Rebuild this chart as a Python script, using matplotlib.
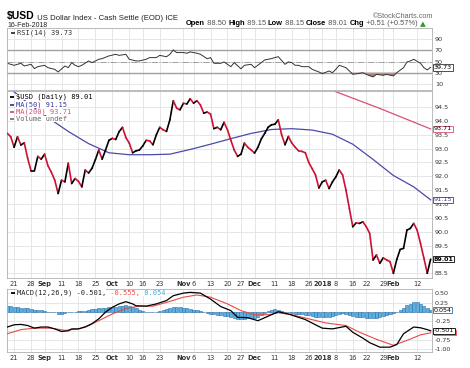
import numpy as np
import matplotlib
matplotlib.use('Agg')
import matplotlib.pyplot as plt
from matplotlib.collections import LineCollection
from matplotlib.patches import Rectangle

# x axis = trading day index, 0 = 17-Aug-2017 ... 125 = 16-Feb-2018
tick_days = [2, 7, 11, 16, 21, 26, 31, 36, 40, 45, 52, 55, 60, 65, 69, 73, 79, 84, 89, 93, 97, 102, 106, 111, 114, 121]
tick_labels = ['21', '28', 'Sep', '11', '18', '25', 'Oct', '10', '16', '23', 'Nov', '6', '13', '20', '27',
               'Dec', '11', '18', '26', '2018', '8', '16', '22', '29', 'Feb', '12']
month_labels = ['Sep', 'Oct', 'Nov', 'Dec', '2018', 'Feb']

close = [93.55, 93.43, 93.05, 93.43, 93.13, 93.21, 92.65, 92.20, 92.20, 92.72,
         92.62, 92.80, 92.38, 92.15, 91.86, 91.38, 91.86, 91.80, 92.47, 91.74,
         91.92, 91.82, 91.62, 92.23, 92.12, 92.29, 92.60, 92.95, 92.62, 92.95,
         93.30, 93.37, 93.33, 93.61, 93.77, 93.40, 93.20, 92.85, 92.92, 92.95,
         93.10, 93.30, 93.28, 93.14, 93.50, 93.77, 93.68, 93.62, 94.04, 94.73,
         94.46, 94.40, 94.64, 94.61, 94.80, 94.64, 94.73, 94.58, 94.28, 94.32,
         94.25, 93.72, 93.77, 93.68, 93.95, 93.68, 93.30, 92.95, 92.72, 92.80,
         93.20, 93.05, 92.95, 92.84, 93.05, 93.35, 93.55, 93.77, 93.86, 93.88,
         94.04, 93.50, 93.14, 93.44, 93.20, 93.05, 92.92, 92.90, 92.85, 92.50,
         92.28, 92.05, 91.58, 91.80, 91.86, 91.56, 91.80, 91.98, 92.23, 92.05,
         91.50, 90.84, 90.18, 90.32, 90.30, 90.36, 90.18, 89.94, 88.98, 89.16,
         88.86, 89.06, 88.98, 88.92, 88.50, 89.00, 89.36, 89.40, 90.06, 90.12,
         90.30, 90.06, 89.58, 89.05, 88.50, 89.01]

ma50_days = [0, 6, 12, 18, 24, 30, 36, 42, 48, 54, 60, 66, 72, 78, 84, 90, 96, 102, 108, 114, 120, 125]
ma50 = [95.25, 94.65, 94.12, 93.62, 93.18, 92.85, 92.78, 92.78, 92.80, 92.97, 93.16,
        93.36, 93.55, 93.69, 93.72, 93.67, 93.52, 93.16, 92.61, 92.03, 91.62, 91.15]

ma200_days = [93, 110, 125]
ma200 = [95.24, 94.45, 93.71]

rsi_days = [0, 2, 4, 5, 7, 8, 9, 11, 12, 14, 15, 17, 18, 19, 20, 21, 22, 24, 25, 27,
            28, 30, 32, 33, 35, 36, 38, 39, 41, 42, 44, 45, 47, 48, 49, 50, 52, 53, 54, 56,
            57, 59, 60, 61, 63, 64, 66, 67, 69, 70, 72, 73, 75, 76, 78, 79, 80, 82, 83, 84,
            85, 86, 87, 89, 90, 92, 93, 95, 96, 97, 98, 100, 101, 102, 104, 105, 106, 108, 109, 111,
            112, 114, 115, 117, 118, 119, 120, 122, 123, 124, 125]
rsi = [46.8, 43.2, 46.8, 42.0, 45.0, 37.3, 40.8, 43.2, 39.0, 36.0,
       31.3, 42.0, 39.0, 48.0, 43.2, 40.8, 43.2, 51.0, 48.0, 54.0,
       55.2, 60.0, 62.9, 61.0, 62.9, 54.0, 51.0, 51.0, 54.0, 57.0,
       57.0, 61.0, 58.6, 62.9, 70.6, 66.0, 66.0, 64.8, 67.2, 64.8,
       63.0, 55.0, 57.0, 46.8, 46.8, 49.2, 40.8, 48.0, 37.0, 43.2,
       45.0, 39.0, 48.0, 52.8, 55.2, 57.0, 58.7, 45.0, 49.2, 48.0,
       43.2, 43.2, 40.8, 40.8, 36.0, 31.3, 28.3, 33.0, 30.0, 36.0,
       43.2, 39.0, 33.0, 27.1, 28.9, 30.0, 27.0, 22.4, 27.0, 25.3,
       27.0, 24.2, 30.0, 39.0, 49.2, 51.0, 54.0, 46.8, 39.0, 34.9, 39.73]

macd_days = [0, 2, 4, 6, 8, 10, 12, 14, 16, 18, 19, 21, 23, 25, 27, 29, 31, 33, 35, 37,
             38, 41, 44, 47, 49, 52, 54, 57, 60, 63, 66, 68, 71, 74, 77, 80, 83, 85, 88, 91,
             93, 96, 100, 102, 105, 107, 110, 113, 115, 117, 120, 122, 124, 125]
macd = [-0.40, -0.34, -0.33, -0.36, -0.43, -0.40, -0.40, -0.45, -0.52, -0.50,
        -0.45, -0.45, -0.40, -0.31, -0.18, 0.00, 0.13, 0.22, 0.28, 0.22,
        0.17, 0.16, 0.22, 0.31, 0.44, 0.51, 0.53, 0.51, 0.35, 0.15,
        0.04, -0.14, -0.15, -0.23, -0.11, 0.01, -0.05, -0.11, -0.20, -0.34,
        -0.43, -0.45, -0.38, -0.54, -0.70, -0.82, -0.94, -0.94, -0.87, -0.58,
        -0.40, -0.42, -0.47, -0.501]

sig_days = [0, 4, 8, 13, 17, 21, 24, 27, 31, 35, 39, 43, 47, 52, 56, 60, 65, 69, 73, 77,
            80, 84, 89, 94, 100, 104, 109, 114, 118, 122, 125]
signal = [-0.58, -0.47, -0.43, -0.43, -0.49, -0.45, -0.36, -0.23, -0.05, 0.10,
          0.16, 0.16, 0.26, 0.40, 0.46, 0.40, 0.22, 0.04, -0.07, -0.07,
          -0.02, -0.07, -0.18, -0.29, -0.36, -0.54, -0.73, -0.89, -0.76, -0.61, -0.555]

hist = [0.17, 0.17, 0.15, 0.14, 0.12, 0.12, 0.12, 0.09, 0.06, 0.06,
        0.05, 0.03, 0.01, 0.01, 0.00, -0.04, -0.05, -0.03, 0.00, 0.00,
        0.01, 0.02, 0.03, 0.04, 0.06, 0.08, 0.09, 0.10, 0.12, 0.12,
        0.13, 0.14, 0.15, 0.16, 0.17, 0.18, 0.17, 0.14, 0.10, 0.06,
        0.03, 0.01, 0.00, 0.00, 0.01, 0.03, 0.05, 0.08, 0.12, 0.15,
        0.15, 0.14, 0.12, 0.10, 0.09, 0.07, 0.06, 0.04, 0.01, -0.02,
        -0.04, -0.06, -0.08, -0.09, -0.10, -0.10, -0.13, -0.17, -0.19, -0.19,
        -0.18, -0.17, -0.16, -0.15, -0.12, -0.07, -0.03, 0.02, 0.06, 0.08,
        0.07, 0.03, 0.00, -0.01, -0.03, -0.04, -0.05, -0.06, -0.07, -0.09,
        -0.11, -0.13, -0.14, -0.14, -0.14, -0.13, -0.11, -0.08, -0.05, -0.03,
        -0.04, -0.07, -0.10, -0.13, -0.14, -0.14, -0.15, -0.16, -0.16, -0.15,
        -0.13, -0.11, -0.08, -0.06, -0.03, 0.01, 0.06, 0.12, 0.18, 0.23,
        0.27, 0.27, 0.22, 0.16, 0.11, 0.054]

W_PX, H_PX = 470, 368
fig = plt.figure(figsize=(W_PX / 100, H_PX / 100), dpi=100)


def fx(x):
    return x / W_PX


def fy(y):
    return 1 - y / H_PX


L, W = fx(7), 425 / W_PX
ax_rsi = fig.add_axes([L, fy(90), W, 62 / H_PX])
ax = fig.add_axes([L, fy(278), W, 187 / H_PX])
ax_macd = fig.add_axes([L, fy(352), W, 63 / H_PX])

for a in (ax_rsi, ax, ax_macd):
    a.set_xlim(-0.1, 125.4)
    a.set_xticks(tick_days)
    a.grid(True, color='#e2e2e2', lw=0.6)
    a.set_axisbelow(True)
    a.yaxis.tick_right()
    a.tick_params(length=0, labelsize=4.6, labelcolor='#333333', pad=2)
    for s in a.spines.values():
        s.set_color('#b0b0b0')
        s.set_linewidth(0.6)

ax_rsi.tick_params(labelbottom=False)
for a in (ax, ax_macd):
    a.set_xticklabels(tick_labels, fontsize=4.8)
    for lbl in a.get_xticklabels():
        if lbl.get_text() in month_labels:
            lbl.set_fontweight('bold')


def tag(a, val, text, ec, tc='black', bold=False):
    a.text(1.004, val, text, transform=a.get_yaxis_transform(), ha='left', va='center',
           fontsize=4.6, color=tc, fontweight='bold' if bold else 'normal', zorder=10,
           bbox=dict(boxstyle='square,pad=0.12', fc='white', ec=ec, lw=0.6), clip_on=False)


def legend_item(a, px, py, top, height, text, color, tcolor):
    # px, py are figure pixels; convert to axes fraction of a
    xa = (px - 7) / 425
    ya = 1 - (py - top) / height
    a.plot([xa - 0.014, xa - 0.004], [ya, ya], color=color, lw=1.3, transform=a.transAxes,
           clip_on=False, zorder=11, solid_capstyle='butt')
    return a.text(xa, ya, text, transform=a.transAxes, fontsize=5, color=tcolor, va='center', ha='left',
                  family='DejaVu Sans Mono', zorder=11,
                  bbox=dict(boxstyle='square,pad=0', fc='white', ec='none'))


# ---- RSI panel ----
ax_rsi.set_ylim(-1, 110)
ax_rsi.set_yticks([10, 30, 50, 70, 90])
ax_rsi.axhline(70, color='#a0a0a0', lw=1.0)
ax_rsi.axhline(30, color='#a0a0a0', lw=1.0)
ax_rsi.axhline(50, color='#a0a0a0', lw=0.7, ls='-.')
r = np.array(rsi)
ax_rsi.fill_between(rsi_days, r, 30, where=r < 30, interpolate=True, color='#9a4a4a', alpha=0.75, lw=0)
ax_rsi.plot(rsi_days, rsi, color='#333333', lw=0.7)
legend_item(ax_rsi, 17, 33, 28, 62, 'RSI(14) 39.73', '#333333', '#333333')
tag(ax_rsi, 39.73, '39.73', '#333333')

# ---- price panel ----
price_ticks = np.arange(88.5, 94.51, 0.5)
ax.set_ylim(88.33, 95.08)
ax.set_yticks(price_ticks)
ax.set_yticklabels(['' if abs(v - 89.0) < 0.01 else '%.1f' % v for v in price_ticks])
ax.plot(ma50_days, ma50, color='#4a4aa8', lw=0.9, zorder=2)
ax.plot(ma200_days, ma200, color='#d9506e', lw=0.9, zorder=2)
days = np.arange(len(close))
pts = np.column_stack([days, close])
segs = np.stack([pts[:-1], pts[1:]], axis=1)
cols = ['#000000' if close[i + 1] >= close[i] else '#cc1133' for i in range(len(close) - 1)]
ax.add_collection(LineCollection(segs, colors=cols, linewidths=1.2, capstyle='round',
                                 joinstyle='round', zorder=3))

legend_item(ax, 16, 97, 91, 187, r'\$USD (Daily) 89.01', '#000000', '#000000')
legend_item(ax, 16, 104.5, 91, 187, 'MA(50) 91.15', '#3a3aa0', '#3a3aa0')
legend_item(ax, 16, 112, 91, 187, 'MA(200) 93.71', '#d9506e', '#d9506e')
legend_item(ax, 16, 119, 91, 187, 'Volume undef', '#777777', '#666666')

tag(ax, 93.71, '93.71', '#d9506e')
tag(ax, 91.15, '91.15', '#3a3aa0', tc='#3a3aa0')
tag(ax, 89.01, '89.01', '#000000', bold=True)

# ---- MACD panel ----
ax_macd.set_ylim(-1.07, 0.62)
ax_macd.set_yticks([-1.0, -0.75, -0.5, -0.25, 0.0, 0.25, 0.5])
ax_macd.set_yticklabels(['-1.00', '-0.75', '', '-0.25', '', '0.25', '0.50'])
ax_macd.bar(np.arange(len(hist)), hist, width=0.9, color='#5ab0e0', edgecolor='#2a70a8', lw=0.4, zorder=2)
ax_macd.plot(sig_days, signal, color='#e84a4a', lw=0.8, zorder=3)
ax_macd.plot(macd_days, macd, color='#000000', lw=0.9, zorder=4)
t = legend_item(ax_macd, 17, 292.7, 289, 63, 'MACD(12,26,9) -0.501,', '#000000', '#222222')
t2 = ax_macd.annotate(' -0.555,', xy=(1, 0.5), xycoords=t, va='center', fontsize=5,
                      color='#e84a4a', family='DejaVu Sans Mono', zorder=11,
                      bbox=dict(boxstyle='square,pad=0', fc='white', ec='none'))
ax_macd.annotate(' 0.054', xy=(1, 0.5), xycoords=t2, va='center', fontsize=5,
                 color='#4aa8d8', family='DejaVu Sans Mono', zorder=11,
                 bbox=dict(boxstyle='square,pad=0', fc='white', ec='none'))
# red signal tag peeking out below the MACD tag
ax_macd.add_patch(Rectangle((1.004, -0.62), 0.052, 0.13, transform=ax_macd.get_yaxis_transform(),
                            fc='white', ec='#e84a4a', lw=0.6, clip_on=False, zorder=9))
tag(ax_macd, 0.054, '0.054', '#2a70a8')
tag(ax_macd, -0.501, '-0.501', '#000000')

# ---- header ----
h1 = fig.text(fx(7), fy(19.5), r'\$USD', fontsize=7.5, fontweight='bold', family='Liberation Sans')
ax_rsi.annotate(' US Dollar Index - Cash Settle (EOD) ICE', xy=(1, 0), xycoords=h1, va='bottom',
                fontsize=5.6, family='Liberation Sans', color='#222222')
fig.text(fx(7), fy(27), '16-Feb-2018', fontsize=5, family='Liberation Sans', color='#222222')
fig.text(fx(433), fy(18), '\u00a9StockCharts.com', fontsize=5.2, family='Liberation Sans',
         color='#666666', ha='right')

parts = [('Open', True), (' 88.50 ', False), ('High', True), (' 89.15 ', False), ('Low', True),
         (' 88.15 ', False), ('Close', True), (' 89.01 ', False), ('Chg', True),
         (' +0.51 (+0.57%) ', False), ('\u25b2', False)]
prev = fig.text(fx(186), fy(27), '', fontsize=5.4)
for txt, bold in parts:
    color = '#000000' if bold else '#555555'
    if txt == '\u25b2':
        color = '#2a9a2a'
    prev = ax_rsi.annotate(txt, xy=(1, 0), xycoords=prev, va='bottom', fontsize=5.4,
                           family='DejaVu Sans' if txt == '\u25b2' else 'Liberation Sans',
                           fontweight='bold' if bold else 'normal', color=color)

fig.savefig('out.png', dpi=100, facecolor='white')
